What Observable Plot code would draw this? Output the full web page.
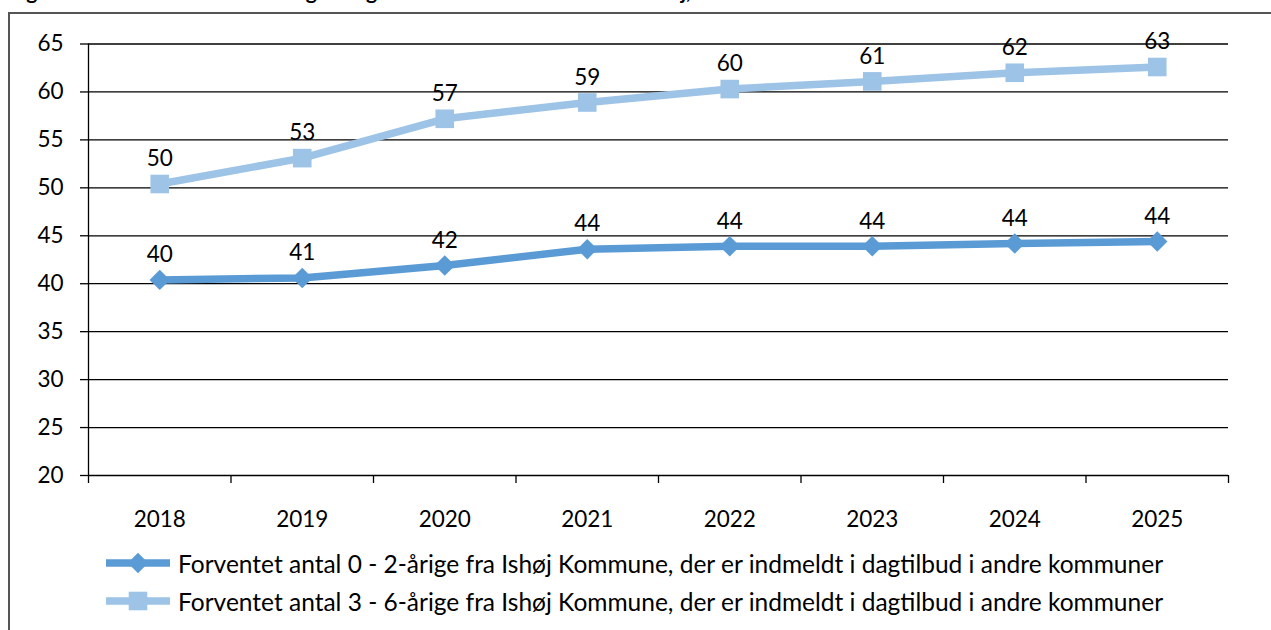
<!DOCTYPE html>
<html>
<head>
<meta charset="utf-8">
<script src="https://cdn.jsdelivr.net/npm/d3@7"></script>
<script src="https://cdn.jsdelivr.net/npm/@observablehq/plot@0.6"></script>
<style>
  html, body { margin: 0; padding: 0; background: #fff; overflow: hidden; }
  body { width: 1271px; height: 630px; position: relative; font-family: Lato, "Open Sans", sans-serif; }
  #title { position: absolute; left: 9px; top: -20px; font-weight: bold; font-size: 21px; line-height: 22px; white-space: nowrap; color: #000; }
  #frame { position: absolute; left: 8px; top: 12px; width: 1400px; height: 800px; border-left: 2px solid #555; border-top: 2px solid #555; }
  #chart { position: absolute; left: 0; top: 0; }
  #legend { position: absolute; left: 106px; top: 544px; font-size: 24.5px; color: #000; }
  .row { display: flex; align-items: center; height: 38px; white-space: nowrap; }
  .row svg { margin-right: 8px; }
</style>
</head>
<body>
<div id="title">Figur 3: Forventet antal 0 - 6-årige i dagtilbud i andre kommuner fra Ishøj, 2018 - 2025</div>
<div id="frame"></div>
<div id="chart"></div>
<div id="legend"></div>
<script>
const years = [2018, 2019, 2020, 2021, 2022, 2023, 2024, 2025];
const values02 = [40.4, 40.6, 41.9, 43.6, 43.9, 43.9, 44.2, 44.4];
const values36 = [50.4, 53.1, 57.2, 58.9, 60.3, 61.1, 62.0, 62.6];
const yTicks = [20, 25, 30, 35, 40, 45, 50, 55, 60, 65];
const seriesNames = [
  "Forventet antal 0 - 2-årige fra Ishøj Kommune, der er indmeldt i dagtilbud i andre kommuner",
  "Forventet antal 3 - 6-årige fra Ishøj Kommune, der er indmeldt i dagtilbud i andre kommuner"
];
const colors = ["#5B9BD5", "#9DC3E6"];
const symbols = ["diamond2", "square"];

const rows = [];
years.forEach((y, i) => rows.push({year: y, value: values02[i], series: seriesNames[0]}));
years.forEach((y, i) => rows.push({year: y, value: values36[i], series: seriesNames[1]}));
const s0 = rows.filter(d => d.series === seriesNames[0]);
const s1 = rows.filter(d => d.series === seriesNames[1]);
const boundaries = [...years.map(y => y - 0.5), years[years.length - 1] + 0.5];

const chart = Plot.plot({
  width: 1271,
  height: 535,
  marginLeft: 88,
  marginRight: 43,
  marginTop: 43.5,
  marginBottom: 60,
  x: {type: "linear", domain: [boundaries[0], boundaries[boundaries.length - 1]]},
  y: {domain: [20, 65]},
  style: {fontFamily: "Lato, 'Open Sans', sans-serif", fontSize: "22.5px", color: "#000", background: "transparent", overflow: "visible"},
  marks: [
    Plot.ruleY(yTicks, {stroke: "#000", strokeWidth: 1.3}),
    Plot.ruleX([boundaries[0]], {stroke: "#000", strokeWidth: 1.3}),
    Plot.axisY({ticks: yTicks, tickSize: 8, tickPadding: 17, tickFormat: d => String(d), label: null, stroke: "#000", strokeWidth: 1.3, fill: "#000", fontSize: 22.5}),
    Plot.axisX({ticks: boundaries, tickSize: 8, tickFormat: () => "", label: null, stroke: "#000", strokeWidth: 1.3}),
    Plot.axisX({ticks: years, tickSize: 0, tickPadding: 36, tickFormat: d => String(d), label: null, fill: "#000", fontSize: 22.5}),
    Plot.line(s0, {x: "year", y: "value", stroke: colors[0], strokeWidth: 7.5}),
    Plot.line(s1, {x: "year", y: "value", stroke: colors[1], strokeWidth: 7.5}),
    Plot.dot(s0, {x: "year", y: "value", symbol: symbols[0], r: 9.2, fill: colors[0], stroke: "none"}),
    Plot.dot(s1, {x: "year", y: "value", symbol: symbols[1], r: 10.5, fill: colors[1], stroke: "none"}),
    Plot.text(rows, {x: "year", y: "value", text: d => String(Math.round(d.value)), dy: -25, fill: "#000", fontSize: 22.5})
  ]
});
document.getElementById("chart").appendChild(chart);

const legend = document.getElementById("legend");
seriesNames.forEach((name, i) => {
  const row = document.createElement("div");
  row.className = "row";
  const sym = d3.symbol(symbols[i] === "square" ? d3.symbolSquare : d3.symbolDiamond2, Math.PI * (symbols[i] === "square" ? 10.5 : 9.2) ** 2)();
  row.innerHTML = `<svg width="64" height="26" viewBox="0 0 64 26">
    <line x1="0" x2="64" y1="13" y2="13" stroke="${colors[i]}" stroke-width="7.5"/>
    <path d="${sym}" transform="translate(32,13)" fill="${colors[i]}"/>
  </svg><span>${name}</span>`;
  legend.appendChild(row);
});
</script>
</body>
</html>
